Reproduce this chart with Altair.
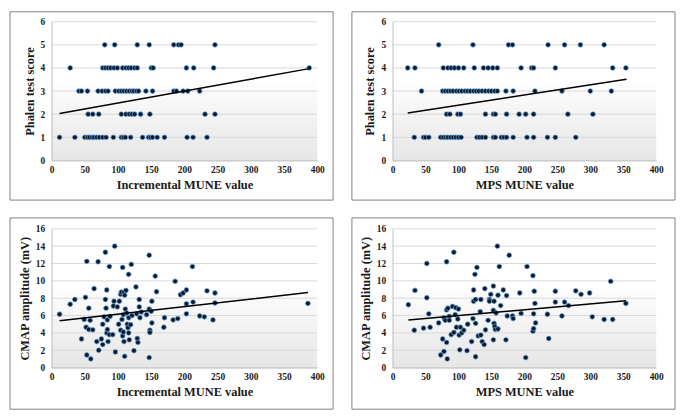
import altair as alt
import pandas as pd

FONT = "Liberation Serif"

# ---- Panel A: Incremental MUNE value vs Phalen test score (x values per score) ----
inc_phalen_5 = [80, 95, 129, 147, 184, 191, 195, 246]
inc_phalen_4 = [28, 77, 81, 85, 89, 94, 99, 107, 112, 116, 120, 125, 129, 150, 153, 203, 214, 244, 388]
inc_phalen_3 = [41, 45, 54, 70, 76, 81, 85, 96, 101, 105, 109, 113, 117, 121, 124, 128, 131, 142, 152,
                184, 188, 198, 205, 223]
inc_phalen_2 = [55, 62, 71, 105, 112, 117, 121, 125, 134, 148, 231, 246]
inc_phalen_1 = [12, 35, 50, 54, 57, 61, 64, 68, 72, 77, 82, 93, 105, 108, 111, 119, 137, 146, 149, 152,
                159, 170, 204, 213, 234]

# ---- Panel B: MPS MUNE value vs Phalen test score ----
mps_phalen_5 = [70, 122, 176, 182, 236, 261, 285, 321]
mps_phalen_4 = [23, 34, 77, 84, 89, 94, 100, 108, 124, 138, 145, 152, 159, 195, 211, 214, 247, 334, 354]
mps_phalen_3 = [44, 76, 80, 84, 88, 92, 97, 101, 105, 110, 114, 118, 123, 127, 131, 136, 141, 146, 150,
                155, 159, 172, 183, 216, 257, 300, 332]
mps_phalen_2 = [82, 87, 99, 103, 141, 153, 156, 173, 192, 202, 214, 266, 304]
mps_phalen_1 = [33, 47, 50, 55, 73, 77, 81, 84, 88, 92, 96, 100, 104, 128, 132, 136, 141, 153, 156, 165,
                169, 173, 183, 204, 214, 235, 247, 278]

# ---- Panel C: Incremental MUNE value vs CMAP amplitude ----
inc_cmap_x = [12, 28, 35, 45, 49, 51, 52, 53, 53, 56,
              56, 58, 59, 62, 64, 68, 70, 71, 75, 77,
              77, 79, 81, 81, 82, 83, 83, 84, 84, 85,
              87, 87, 88, 92, 93, 94, 95, 96, 99, 101,
              102, 104, 104, 105, 106, 107, 107, 108, 108, 109,
              109, 110, 110, 111, 112, 113, 114, 115, 116, 116,
              116, 117, 119, 120, 121, 124, 127, 128, 129, 130,
              132, 132, 133, 135, 143, 147, 147, 147, 148, 148,
              150, 151, 151, 156, 158, 169, 170, 183, 186, 190,
              194, 198, 203, 203, 203, 212, 213, 223, 230, 234,
              243, 246, 246, 386]
inc_cmap_y = [6.15, 7.3, 7.85, 3.3, 5.55, 8.1, 4.65, 12.25, 1.45, 6.85,
              4.4, 5.45, 1.0, 4.35, 9.1, 3.0, 12.2, 2.0, 3.3, 2.65,
              5.0, 5.85, 13.3, 7.85, 6.85, 8.95, 4.0, 4.4, 5.5, 3.0,
              11.65, 3.8, 5.9, 3.8, 7.1, 7.65, 14.0, 1.8, 7.0, 5.0,
              7.65, 8.45, 4.3, 8.7, 5.55, 11.55, 3.65, 6.1, 4.1, 8.7,
              3.0, 8.35, 1.3, 6.75, 8.9, 6.3, 5.0, 4.6, 10.75, 5.75,
              4.0, 3.2, 4.95, 11.9, 6.0, 1.95, 9.3, 6.2, 3.35, 2.9,
              7.85, 7.0, 5.75, 6.4, 6.1, 6.75, 12.95, 1.15, 4.3, 4.05,
              6.5, 7.65, 5.15, 10.55, 8.75, 4.65, 5.75, 5.5, 9.95, 5.65,
              8.4, 8.6, 8.95, 7.35, 6.2, 11.65, 7.55, 5.95, 5.85, 8.85,
              5.5, 8.6, 7.45, 7.4]

# ---- Panel D: MPS MUNE value vs CMAP amplitude ----
mps_cmap_x = [24, 33, 34, 47, 52, 52, 55, 57, 70, 73,
              76, 78, 78, 80, 82, 82, 82, 83, 84, 86,
              86, 89, 91, 93, 93, 95, 96, 97, 99, 100,
              101, 102, 103, 105, 108, 113, 114, 120, 122, 123,
              123, 125, 126, 126, 126, 128, 130, 133, 134, 134,
              136, 139, 140, 141, 145, 147, 147, 149, 153, 153,
              153, 154, 154, 155, 156, 157, 159, 160, 160, 162,
              164, 168, 172, 173, 174, 177, 182, 183, 193, 195,
              202, 204, 213, 213, 214, 214, 215, 216, 217, 235,
              237, 247, 247, 257, 261, 267, 278, 286, 299, 303,
              321, 331, 334, 354]
mps_cmap_y = [7.25, 4.3, 8.9, 4.55, 12.0, 8.05, 6.2, 4.65, 5.15, 1.45,
              3.3, 5.75, 1.85, 5.45, 12.2, 2.9, 6.65, 1.0, 6.85, 5.9,
              5.45, 3.8, 7.05, 13.3, 4.05, 6.1, 6.9, 4.65, 5.6, 6.75,
              3.75, 2.05, 4.65, 4.0, 4.3, 1.95, 5.0, 3.0, 5.65, 7.65,
              8.95, 10.75, 5.1, 1.25, 7.85, 11.55, 3.65, 6.45, 7.85, 3.75,
              3.0, 2.65, 9.1, 4.35, 5.45, 7.85, 7.65, 8.45, 6.6, 3.2,
              9.4, 7.65, 5.1, 4.75, 4.4, 6.3, 14.0, 8.35, 4.45, 11.65,
              7.15, 8.95, 3.2, 8.3, 5.95, 12.95, 5.95, 5.65, 8.6, 6.25,
              1.15, 11.65, 10.6, 4.2, 4.5, 6.2, 8.8, 7.4, 5.15, 6.15,
              3.35, 8.8, 7.55, 5.95, 7.55, 7.15, 8.85, 8.45, 8.6, 5.85,
              5.55, 9.95, 5.55, 7.4]

# ---- Linear trend lines (end points) ----
trend_a_x, trend_a_y = [12, 386], [2.03, 3.96]
trend_b_x, trend_b_y = [23, 355], [2.05, 3.51]
trend_c_x, trend_c_y = [12, 386], [5.4, 8.65]
trend_d_x, trend_d_y = [24, 354], [5.5, 7.7]

x_ticks = [0, 50, 100, 150, 200, 250, 300, 350, 400]
phalen_ticks = [0, 1, 2, 3, 4, 5, 6]
cmap_ticks = [0, 2, 4, 6, 8, 10, 12, 14, 16]


def score_frame(rows):
    xs, ys = [], []
    for score, vals in rows:
        xs += vals
        ys += [score] * len(vals)
    return pd.DataFrame({"x": xs, "y": ys})


def panel(df, tx, ty, xtitle, ytitle, yticks, w, h, frame):
    L, R, T, B = frame
    xs = alt.Scale(domain=[0, 400], nice=False)
    ys = alt.Scale(domain=[yticks[0], yticks[-1]], nice=False)
    one = alt.Data(values=[{}])

    xaxis = alt.Axis(
        values=x_ticks, title=xtitle, grid=False, ticks=False, domain=True,
        domainColor="#bfbfbf", labelFont=FONT, labelFontSize=9.5, labelFontWeight="bold",
        labelColor="#1a1a1a", titleFont=FONT, titleFontSize=12.5, titleFontWeight="bold",
        titleColor="#1a1a1a", labelPadding=4, titlePadding=5, labelFlush=False,
        labelOverlap=False, zindex=1,
    )
    yaxis = alt.Axis(
        values=yticks, title=ytitle, grid=False, ticks=False, domain=True,
        domainColor="#bfbfbf", labelFont=FONT, labelFontSize=9.5, labelFontWeight="bold",
        labelColor="#1a1a1a", titleFont=FONT, titleFontSize=12.5, titleFontWeight="bold",
        titleColor="#1a1a1a", labelPadding=7, titlePadding=4, labelOverlap=False, zindex=1,
    )

    bg = alt.Chart(one).mark_rect(
        fill=alt.Gradient(
            gradient="linear", x1=0, y1=0, x2=0, y2=1,
            stops=[alt.GradientStop(color="#ffffff", offset=0),
                   alt.GradientStop(color="#ffffff", offset=0.4),
                   alt.GradientStop(color="#e6e6e6", offset=1)],
        )
    ).encode(x=alt.value(0), x2=alt.value(w), y=alt.value(0), y2=alt.value(h))

    grid = alt.Chart(pd.DataFrame({"y": yticks})).mark_rule(
        color="#d9d9d9", strokeWidth=1
    ).encode(y=alt.Y("y:Q", scale=ys, axis=yaxis))

    pts = alt.Chart(df).mark_circle(
        size=24, opacity=1, fill="#0a1a30", stroke="#6fa8dc", strokeWidth=0.7
    ).encode(x=alt.X("x:Q", scale=xs, axis=xaxis), y=alt.Y("y:Q", scale=ys, axis=yaxis))

    line = alt.Chart(pd.DataFrame({"x": tx, "y": ty})).mark_line(
        color="#000000", strokeWidth=1.5
    ).encode(x=alt.X("x:Q", scale=xs, axis=xaxis), y=alt.Y("y:Q", scale=ys, axis=yaxis))

    box = alt.Chart(one).mark_rect(
        filled=False, stroke="#808080", strokeWidth=1
    ).encode(x=alt.value(-L), x2=alt.value(w + R), y=alt.value(-T), y2=alt.value(h + B))

    return alt.layer(bg, grid, pts, line, box).properties(width=w, height=h)


df_a = score_frame([(5, inc_phalen_5), (4, inc_phalen_4), (3, inc_phalen_3),
                    (2, inc_phalen_2), (1, inc_phalen_1)])
df_b = score_frame([(5, mps_phalen_5), (4, mps_phalen_4), (3, mps_phalen_3),
                    (2, mps_phalen_2), (1, mps_phalen_1)])
df_c = pd.DataFrame({"x": inc_cmap_x, "y": inc_cmap_y})
df_d = pd.DataFrame({"x": mps_cmap_x, "y": mps_cmap_y})

pa = panel(df_a, trend_a_x, trend_a_y, "Incremental MUNE value", "Phalen test score",
           phalen_ticks, 268, 140, (42, 16, 10, 40))
pb = panel(df_b, trend_b_x, trend_b_y, "MPS MUNE value", "Phalen test score",
           phalen_ticks, 266, 140, (41, 19, 10, 40))
pc = panel(df_c, trend_c_x, trend_c_y, "Incremental MUNE value", "CMAP amplitude (mV)",
           cmap_ticks, 268, 140, (42, 16, 11, 42))
pd_ = panel(df_d, trend_d_x, trend_d_y, "MPS MUNE value", "CMAP amplitude (mV)",
            cmap_ticks, 266, 140, (41, 19, 11, 42))

chart = alt.concat(
    pa, pb, pc, pd_, columns=2,
    spacing={"row": 16, "column": 17},
).properties(padding=1, background="#ffffff").configure_view(strokeWidth=0)

chart.save("out.html", embed_options={"renderer": "svg", "actions": False})
